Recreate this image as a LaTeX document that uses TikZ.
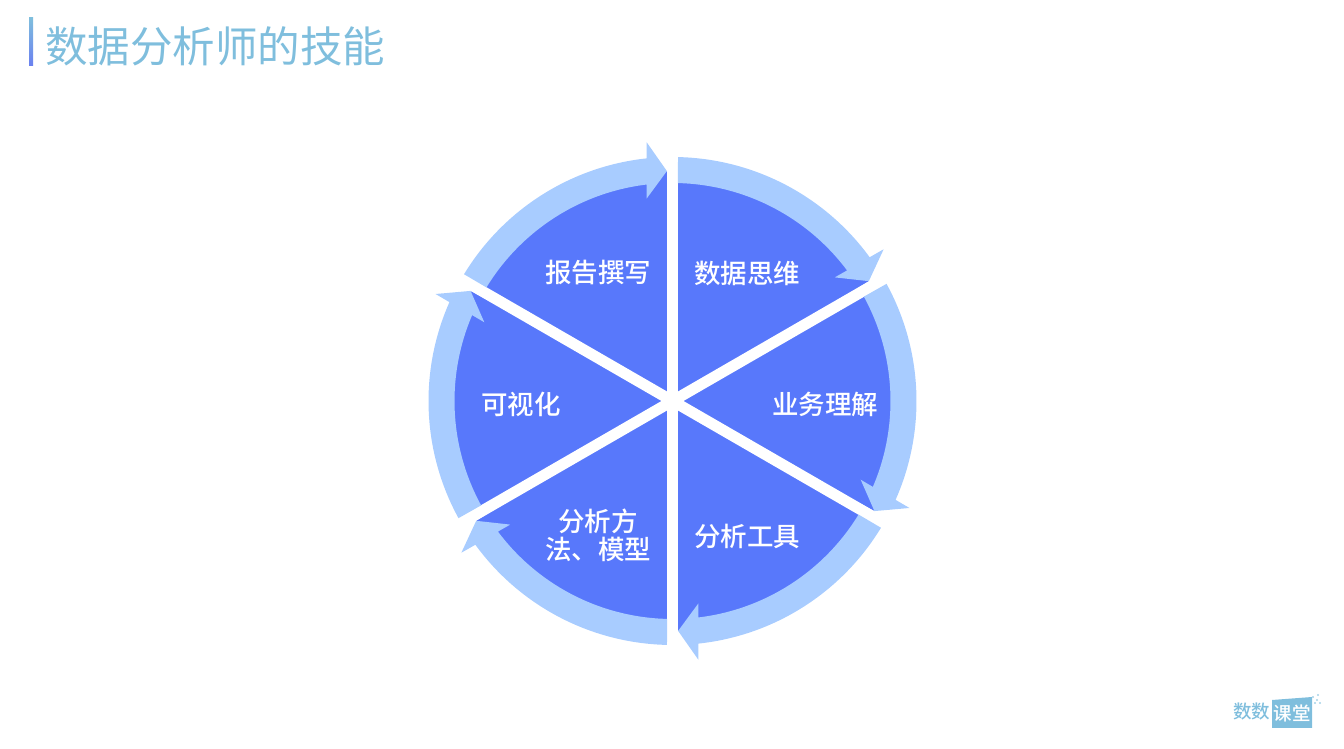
\documentclass[tikz,border=0pt]{standalone}
\usepackage{fontspec}
\usepackage{tikz}
\setmainfont{Noto Sans CJK SC}
\newfontfamily\labelfont[Scale=1]{Noto Sans CJK SC Medium}
\definecolor{wheelblue}{HTML}{5878FB}
\definecolor{ringblue}{HTML}{A8CCFF}
\definecolor{titleblue}{HTML}{7FBEDD}
\definecolor{barblue}{HTML}{6A80F0}
\tikzset{
    lablstyle/.style={text=white,inner sep=0pt,align=center,font=\labelfont\fontsize{26.5}{28}\selectfont},
    logostyle/.style={inner sep=0pt,font=\labelfont\fontsize{18.5}{20}\selectfont},
}
\newcommand{\sector}[1]{\fill[wheelblue] (0,0) -- ({#1}:219) arc[start angle={#1},end angle={#1-53},radius=219] -- ({#1-58.6}:230) -- ({#1-60}:0) -- cycle;}
\newcommand{\ringarrow}[1]{\fill[ringblue] ({#1-1.3}:244) arc[start angle={#1-1.3},end angle={#1-53.9},radius=244] -- ({#1-54.3}:260) -- ({#1-58.6}:230) -- ({#1-52.7}:204) -- ({#1-53.2}:218) arc[start angle={#1-53.2},end angle={#1-1.4},radius=218] -- cycle;}
\newcommand{\gapline}[1]{\draw[white,line width=11pt] ({#1}:232) -- ({#1+180}:232);}
\newcommand{\lablnode}[4]{\node[lablstyle] (#1) at ( #2 , #3 ) {#4};}

\begin{document}
\begin{tikzpicture}[x=1pt,y=1pt]
        \useasboundingbox (0,0) rectangle (1344,749);
        % title
        \shade[top color=titleblue,bottom color=barblue] (29,683) rectangle (33,731);
        \node[text=titleblue,inner sep=0pt,anchor=west,font=\fontsize{42.5}{46}\selectfont] (title) at (45,703) {数据分析师的技能};
        \begin{scope}[shift={(672.5,348)}]
        % sectors
        \sector{90}
        \sector{30}
        \sector{-30}
        \sector{-90}
        \sector{-150}
        \sector{150}
        % gaps
        \gapline{90}
        \gapline{30}
        \gapline{-30}
        % arrows
        \ringarrow{90}
        \ringarrow{30}
        \ringarrow{-30}
        \ringarrow{-90}
        \ringarrow{-150}
        \ringarrow{150}
        % labels
        \lablnode{report}{-74.5}{128}{报告撰写}
        \lablnode{thinking}{74.5}{128}{数据思维}
        \lablnode{business}{152.5}{-3}{业务理解}
        \lablnode{tools}{74.5}{-135}{分析工具}
        \lablnode{methods}{-74.5}{-134}{分析方\\法、模型}
        \lablnode{visual}{-151.5}{-3}{可视化}
        \end{scope}
        % logo
        \node[logostyle,text=titleblue,anchor=west] (logoleft) at (1233,37) {数数};
        \fill[titleblue] (1272,49) -- (1312,52) -- (1312,21) -- (1272,21) -- cycle;
        \node[logostyle,text=white] (logoright) at (1292,36) {课堂};
        \fill[titleblue!70] (1313,52) circle (1.2);
        \fill[titleblue!70] (1318,54) circle (1.2);
        \fill[titleblue!70] (1317,49) circle (1.2);
        \fill[titleblue!70] (1320,46) circle (1.2);
        \fill[titleblue!70] (1315,46) circle (1.2);
    \end{tikzpicture}
\end{document}
